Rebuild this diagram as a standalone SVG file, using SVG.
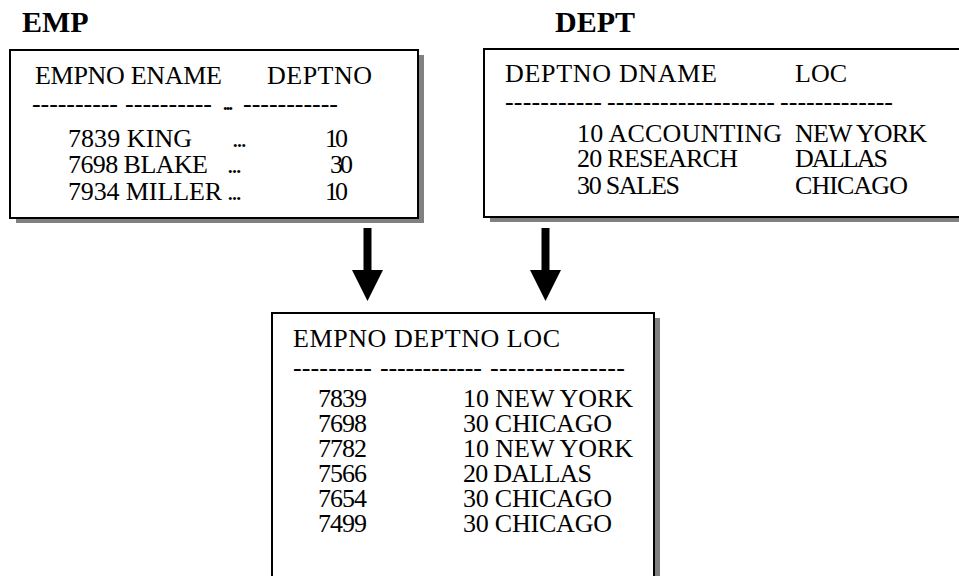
<svg xmlns="http://www.w3.org/2000/svg" width="959" height="576" viewBox="0 0 959 576" font-family="'Liberation Serif', 'DejaVu Serif', 'Times New Roman', serif">
  <style>
    text { font-family: 'Liberation Serif', 'DejaVu Serif', 'Times New Roman', serif; fill: #000; }
    .title { font-size: 30px; font-weight: bold; }
    .cell { font-size: 26px; }
    .frame { fill: #fff; stroke: #000; stroke-width: 2; }
    .shadow { fill: #808080; }
    .conn { stroke: #000; stroke-width: 8; fill: none; }
  </style>
  <defs>
    <marker id="head" viewBox="0 0 31 31" markerUnits="userSpaceOnUse" markerWidth="31" markerHeight="31" refX="0" refY="15.5" orient="auto">
      <path d="M0,0 L31,15.5 L0,31 Z" fill="#000"/>
    </marker>
  </defs>
  <rect width="959" height="576" fill="#fff"/>

  <!-- EMP table -->
  <g id="emp">
    <text class="title" x="22" y="32">EMP</text>
    <rect class="shadow" x="16" y="55" width="408" height="168"/>
    <rect class="frame" x="10" y="50" width="408" height="168"/>
    <g class="cell">
      <text x="35" y="84" textLength="187">EMPNO ENAME</text>
      <text x="267" y="84" textLength="105">DEPTNO</text>
      <text x="32" y="112" textLength="86">----------</text>
      <text x="125" y="112" textLength="87">----------</text>
      <text x="222" y="110" textLength="12">...</text>
      <text x="243" y="112" textLength="95">-----------</text>
      <text x="68" y="147" textLength="124">7839 KING</text>
      <text x="232" y="147" textLength="15">...</text>
      <text x="325" y="147" textLength="23">10</text>
      <text x="68" y="173" textLength="140">7698 BLAKE</text>
      <text x="227" y="173" textLength="15">...</text>
      <text x="330" y="173" textLength="23">30</text>
      <text x="68" y="200" textLength="154">7934 MILLER</text>
      <text x="227" y="200" textLength="15">...</text>
      <text x="325" y="200" textLength="23">10</text>
    </g>
  </g>

  <!-- DEPT table -->
  <g id="dept">
    <text class="title" x="555" y="32">DEPT</text>
    <rect class="shadow" x="490" y="54" width="480" height="168"/>
    <rect class="frame" x="484" y="49" width="480" height="168"/>
    <g class="cell">
      <text x="505" y="82" textLength="212">DEPTNO DNAME</text>
      <text x="795" y="82" textLength="52">LOC</text>
      <text x="505" y="110" textLength="97">-----------</text>
      <text x="607" y="110" textLength="168">-------------------</text>
      <text x="780" y="110" textLength="113">-------------</text>
      <text x="577" y="142" textLength="205">10 ACCOUNTING</text>
      <text x="795" y="142" textLength="132">NEW YORK</text>
      <text x="577" y="167" textLength="161">20 RESEARCH</text>
      <text x="795" y="167" textLength="93">DALLAS</text>
      <text x="577" y="194" textLength="103">30 SALES</text>
      <text x="795" y="194" textLength="113">CHICAGO</text>
    </g>
  </g>

  <!-- joined result -->
  <g id="result">
    <rect class="shadow" x="278" y="318" width="382" height="300"/>
    <rect class="frame" x="272" y="313" width="382" height="300"/>
    <g class="cell">
      <text x="293" y="347" textLength="267">EMPNO DEPTNO LOC</text>
      <text x="293" y="376" textLength="79">---------</text>
      <text x="380" y="376" textLength="102">------------</text>
      <text x="490" y="376" textLength="135">---------------</text>
      <text x="318" y="407" textLength="49">7839</text>
      <text x="463" y="407" textLength="170">10 NEW YORK</text>
      <text x="318" y="432" textLength="49">7698</text>
      <text x="463" y="432" textLength="149">30 CHICAGO</text>
      <text x="318" y="457" textLength="49">7782</text>
      <text x="463" y="457" textLength="170">10 NEW YORK</text>
      <text x="318" y="482" textLength="49">7566</text>
      <text x="463" y="482" textLength="129">20 DALLAS</text>
      <text x="318" y="507" textLength="49">7654</text>
      <text x="463" y="507" textLength="149">30 CHICAGO</text>
      <text x="318" y="532" textLength="49">7499</text>
      <text x="463" y="532" textLength="149">30 CHICAGO</text>
    </g>
  </g>

  <!-- connectors -->
  <g id="connectors">
    <line class="conn" x1="367.5" y1="228" x2="367.5" y2="270" marker-end="url(#head)"/>
    <line class="conn" x1="545.5" y1="228" x2="545.5" y2="270" marker-end="url(#head)"/>
  </g>
</svg>
